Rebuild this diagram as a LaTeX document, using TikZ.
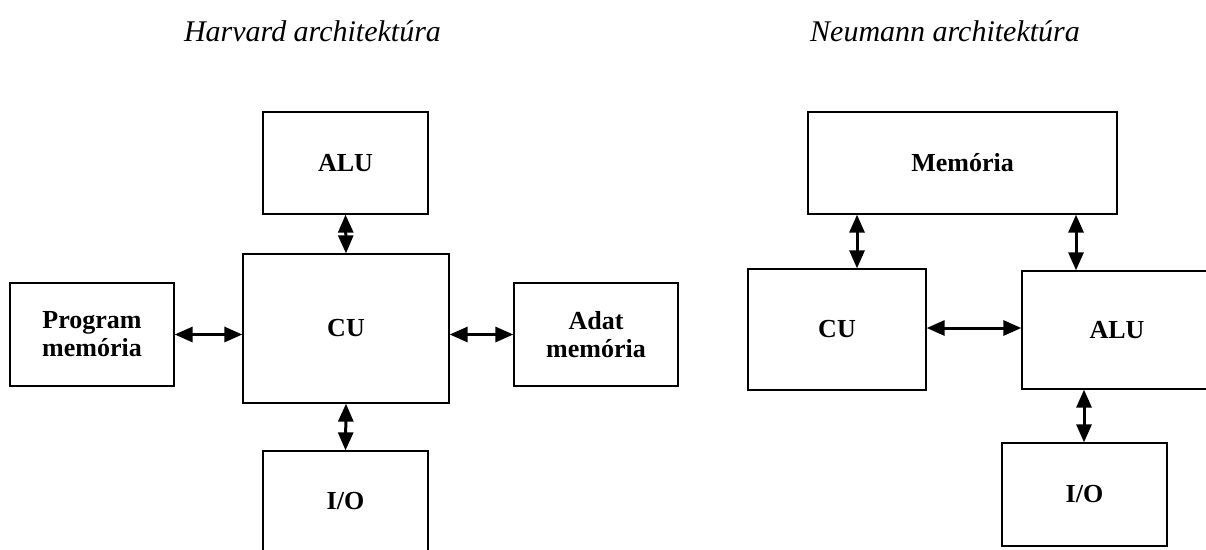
\documentclass[tikz,border=0pt]{standalone}
\usepackage{fontspec}
\setmainfont{Liberation Serif}
\usetikzlibrary{arrows.meta}
\begin{document}
\begin{tikzpicture}[x=1pt,y=-1pt,
  unit/.style={draw=black,line width=1.3pt,rectangle,inner sep=0pt,
    align=center,font=\fontsize{26}{28}\selectfont\bfseries},
  title/.style={anchor=base,inner sep=0pt,font=\fontsize{30}{34}\selectfont\itshape},
  bus/.style={line width=3pt,{Triangle[length=18pt,width=15pt]}-{Triangle[length=18pt,width=15pt]}}]
\clip (0,0) rectangle (1206,549);

% Harvard architecture
\node[title] (htitle) at (312.5,41) {Harvard architektúra};
\node[unit,minimum width=165pt,minimum height=102pt] (halu) at (345.5,163) {ALU};
\node[unit,minimum width=206pt,minimum height=149pt] (hcu) at (346,328.5) {CU};
\node[unit,minimum width=164pt,minimum height=103pt] (prog) at (92,334.5) {Program\\memória};
\node[unit,minimum width=164pt,minimum height=103pt] (adat) at (596,334.5) {Adat\\memória};
\node[unit,minimum width=165pt,minimum height=100pt] (hio) at (345.5,501) {I/O};

\draw[bus] (halu.south) -- (hcu.north);
\draw[bus] (hcu.south) -- (hio.north);
\draw[bus] (prog.east) -- (hcu.west |- prog.east);
\draw[bus] (hcu.east |- adat.west) -- (adat.west);

% Neumann architecture
\node[title] (ntitle) at (945,41) {Neumann architektúra};
\node[unit,minimum width=309pt,minimum height=102pt] (mem) at (962.5,163) {Memória};
\node[unit,minimum width=178pt,minimum height=121pt] (ncu) at (837,329.5) {CU};
\node[unit,minimum width=190pt,minimum height=118pt] (nalu) at (1117,330) {ALU};
\node[unit,minimum width=165pt,minimum height=103pt] (nio) at (1084.5,494.5) {I/O};

\coordinate (memcu) at (857,0);
\coordinate (memalu) at (1076,0);
\coordinate (aluio) at (1084,0);
\coordinate (cualu) at (0,328);
\draw[bus] (mem.south -| memcu) -- (ncu.north -| memcu);
\draw[bus] (mem.south -| memalu) -- (nalu.north -| memalu);
\draw[bus] (nalu.south -| aluio) -- (nio.north -| aluio);
\draw[bus] (ncu.east |- cualu) -- (nalu.west |- cualu);
\end{tikzpicture}
\end{document}
